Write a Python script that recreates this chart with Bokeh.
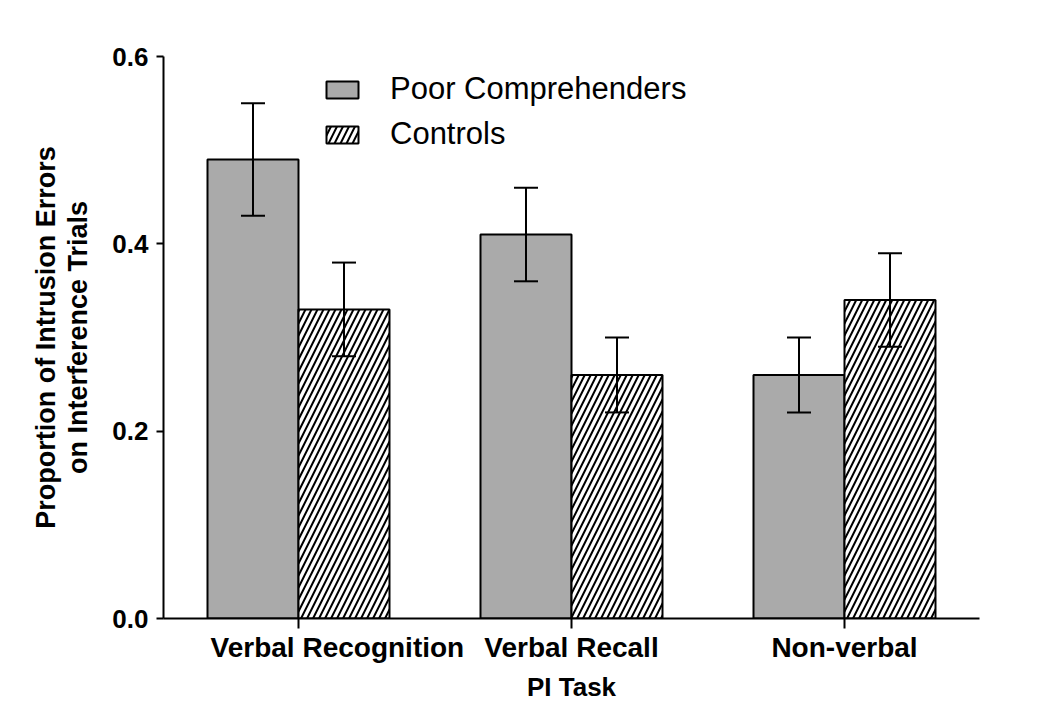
import numpy as np
from bokeh.plotting import figure
from bokeh.models import (Range1d, FixedTicker, Whisker, TeeHead, ColumnDataSource,
                          Legend, LegendItem, LinearAxis, NumeralTickFormatter)
from bokeh.embed import file_html
from bokeh.resources import INLINE

categories = ["Verbal Recognition", "Verbal Recall", "Non-verbal"]
poor_mean = [0.49, 0.41, 0.26]
poor_lower = [0.43, 0.36, 0.22]
poor_upper = [0.55, 0.46, 0.30]
ctrl_mean = [0.33, 0.26, 0.34]
ctrl_lower = [0.28, 0.22, 0.29]
ctrl_upper = [0.38, 0.30, 0.39]
y_ticks = [0.0, 0.2, 0.4, 0.6]

FONT = "Liberation Sans"
idx = np.arange(1, len(categories) + 1)
bw = 1 / 3

p = figure(width=1032, height=704, output_backend="svg", toolbar_location=None,
           x_range=Range1d(0.5055, 3.4945), y_range=Range1d(0, 0.6),
           min_border_left=163, min_border_right=53, min_border_top=56, min_border_bottom=80)
p.outline_line_color = None
p.xgrid.visible = False
p.ygrid.visible = False

src_p = ColumnDataSource(dict(x=idx - bw / 2, top=poor_mean, lo=poor_lower, hi=poor_upper))
src_c = ColumnDataSource(dict(x=idx + bw / 2, top=ctrl_mean, lo=ctrl_lower, hi=ctrl_upper))

r_p = p.vbar(x="x", top="top", bottom=0, width=bw, source=src_p,
             fill_color="#aaaaaa", line_color="black", line_width=2)
r_c = p.vbar(x="x", top="top", bottom=0, width=bw, source=src_c,
             fill_color="white", line_color="black", line_width=2,
             hatch_pattern="/", hatch_color="black", hatch_weight=2, hatch_scale=12)

for src in (src_p, src_c):
    w = Whisker(base="x", upper="hi", lower="lo", source=src, dimension="height",
                line_color="black", line_width=2, level="annotation",
                upper_head=TeeHead(size=24, line_width=2, line_color="black"),
                lower_head=TeeHead(size=24, line_width=2, line_color="black"))
    p.add_layout(w)

# y axis (inner: ticks + second line of title)
yax = p.yaxis[0]
yax.ticker = FixedTicker(ticks=y_ticks)
yax.formatter = NumeralTickFormatter(format="0.0")
yax.axis_line_width = 2
yax.major_tick_line_width = 2
yax.major_tick_out = 7
yax.major_tick_in = 0
yax.minor_tick_line_color = None
yax.major_label_text_font = FONT
yax.major_label_text_font_style = "bold"
yax.major_label_text_font_size = "26px"
yax.major_label_text_color = "black"
yax.major_label_standoff = 8
yax.axis_label = "on Interference Trials"
yax.axis_label_standoff = 16
yax.axis_label_text_font = FONT
yax.axis_label_text_font_style = "bold"
yax.axis_label_text_font_size = "27px"
yax.axis_label_text_color = "black"

# outer left axis carrying the first title line only
yax2 = LinearAxis(ticker=FixedTicker(ticks=[]), axis_line_color=None,
                  major_tick_line_color=None, minor_tick_line_color=None,
                  major_tick_out=0, major_tick_in=0, major_label_standoff=0,
                  major_label_text_font_size="1px",
                  axis_label="Proportion of Intrusion Errors", axis_label_standoff=0,
                  axis_label_text_font=FONT, axis_label_text_font_style="bold",
                  axis_label_text_font_size="27px", axis_label_text_color="black")
p.add_layout(yax2, "left")

# x axis
nbsp = "\u00a0"
shifted = {"Verbal Recognition": nbsp * 10 + "Verbal Recognition"}
xax = p.xaxis[0]
xax.ticker = FixedTicker(ticks=[float(i) for i in idx])
xax.major_label_overrides = {int(i): shifted.get(c, c) for i, c in zip(idx, categories)}
xax.axis_line_width = 2
xax.major_tick_line_width = 2
xax.major_tick_out = 10
xax.major_tick_in = 0
xax.minor_tick_line_color = None
xax.major_label_standoff = 3
xax.major_label_text_font = FONT
xax.major_label_text_font_style = "bold"
xax.major_label_text_font_size = "28px"
xax.major_label_text_color = "black"
xax.axis_label = "PI Task"
xax.axis_label_standoff = 6
xax.axis_label_text_font = FONT
xax.axis_label_text_font_style = "bold"
xax.axis_label_text_font_size = "26px"
xax.axis_label_text_color = "black"

legend = Legend(items=[LegendItem(label="Poor Comprehenders", renderers=[r_p]),
                       LegendItem(label="Controls", renderers=[r_c])],
                location=(159, 466), orientation="vertical",
                glyph_width=40, glyph_height=21, label_standoff=28, spacing=9,
                padding=0, margin=0, border_line_color=None, background_fill_alpha=0,
                label_text_font=FONT, label_text_font_size="31px", label_text_color="black")
p.add_layout(legend)

open("out.html", "w").write(file_html(p, INLINE))
